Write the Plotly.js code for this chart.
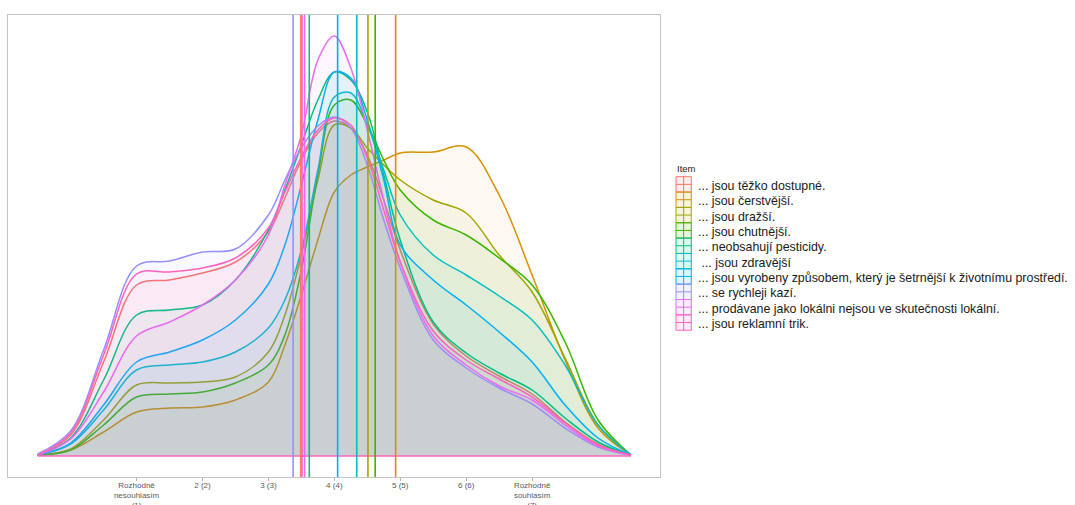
<!DOCTYPE html>
<html>
<head>
<meta charset="utf-8">
<script src="https://cdn.plot.ly/plotly-3.0.1.min.js"></script>
<style>html,body{margin:0;padding:0;background:#fff;}#chart{width:1075px;height:505px;}</style>
</head>
<body>
<div id="chart"></div>
<script>
// ---- data ----
const scaleTicks = [1, 2, 3, 4, 5, 6, 7];
const scaleLabels = ['Rozhodně<br>nesouhlasím<br>(1)', '2 (2)', '3 (3)', '4 (4)', '5 (5)', '6 (6)', 'Rozhodně<br>souhlasím<br>(7)'];

const legendTitle = 'Item';
const items = [
  '... jsou těžko dostupné.',
  '... jsou čerstvější.',
  '... jsou dražší.',
  '... jsou chutnější.',
  '... neobsahují pesticidy.',
  ' ... jsou zdravější',
  '... jsou vyrobeny způsobem, který je šetrnější k životnímu prostředí.',
  '... se rychleji kazí.',
  '... prodávane jako lokálni nejsou ve skutečnosti lokální.',
  '... jsou reklamní trik.'
];

// x positions at which the density estimates were read
const densityX = [-0.5, 0, 0.5, 1, 1.5, 2, 2.5, 3, 3.25, 3.5, 3.75, 4, 4.25, 4.5, 4.75, 5, 5.5, 6, 6.5, 7, 7.5, 8, 8.5];

const dTezkoDostupne = [0.001,0.021,0.094,0.171,0.176,0.183,0.194,0.224,0.258,0.296,0.323,0.335,0.328,0.301,0.256,0.206,0.132,0.100,0.080,0.062,0.034,0.012,0.001];
const dCerstvejsi    = [0.001,0.006,0.024,0.044,0.048,0.049,0.056,0.074,0.111,0.161,0.216,0.264,0.281,0.289,0.296,0.303,0.304,0.309,0.261,0.181,0.096,0.028,0.001];
const dDrazsi        = [0.001,0.007,0.036,0.071,0.073,0.074,0.079,0.104,0.141,0.201,0.276,0.331,0.328,0.308,0.291,0.276,0.256,0.243,0.201,0.164,0.098,0.031,0.001];
const dChutnejsi     = [0.001,0.006,0.031,0.059,0.062,0.064,0.073,0.091,0.121,0.186,0.281,0.351,0.356,0.331,0.296,0.266,0.236,0.221,0.198,0.171,0.114,0.036,0.001];
const dPesticidy     = [0.001,0.018,0.076,0.141,0.146,0.151,0.176,0.226,0.266,0.311,0.356,0.384,0.376,0.344,0.281,0.216,0.134,0.103,0.083,0.066,0.038,0.014,0.001];
const dZdravejsi     = [0.001,0.012,0.046,0.086,0.091,0.094,0.104,0.128,0.156,0.206,0.286,0.359,0.363,0.331,0.286,0.241,0.201,0.181,0.160,0.136,0.091,0.031,0.001];
const dSetrnejsi     = [0.001,0.013,0.051,0.094,0.104,0.116,0.136,0.172,0.211,0.271,0.336,0.384,0.378,0.336,0.276,0.211,0.176,0.151,0.124,0.094,0.051,0.018,0.001];
const dKazi          = [0.002,0.025,0.106,0.190,0.195,0.204,0.207,0.241,0.276,0.308,0.330,0.339,0.328,0.291,0.236,0.188,0.116,0.088,0.068,0.052,0.028,0.009,0.001];
const dLokalni       = [0.001,0.017,0.064,0.120,0.134,0.151,0.176,0.221,0.271,0.321,0.396,0.420,0.388,0.326,0.256,0.194,0.120,0.091,0.070,0.056,0.031,0.010,0.001];
const dReklamni      = [0.001,0.023,0.101,0.182,0.184,0.188,0.198,0.228,0.264,0.299,0.326,0.338,0.331,0.298,0.246,0.194,0.125,0.096,0.077,0.059,0.033,0.011,0.001];

const itemDensities = [dTezkoDostupne, dCerstvejsi, dDrazsi, dChutnejsi, dPesticidy, dZdravejsi, dSetrnejsi, dKazi, dLokalni, dReklamni];

// item means (vertical lines)
const itemMeans = [3.49, 4.93, 4.51, 4.62, 3.62, 4.34, 4.05, 3.375, 3.55, 3.51];

// ---- style ----
const colors = ['#F8766D', '#D89000', '#A3A500', '#39B600', '#00BF7D', '#00BFC4', '#00B0F6', '#9590FF', '#E76BF3', '#FF62BC'];
function hexA(hex, a) {
  const r = parseInt(hex.slice(1,3),16), g = parseInt(hex.slice(3,5),16), b = parseInt(hex.slice(5,7),16);
  return 'rgba(' + r + ',' + g + ',' + b + ',' + a + ')';
}

const W = 1075, H = 505;
const M = {l: 8, r: 415, t: 15, b: 28};
const plotW = W - M.l - M.r, plotH = H - M.t - M.b;
const px2x = p => (p - M.l) / plotW;      // pixel -> paper x
const py2y = p => (H - M.b - p) / plotH;  // pixel -> paper y

const traces = items.map((name, i) => ({
  type: 'scatter',
  mode: 'lines',
  name: name,
  x: densityX,
  y: itemDensities[i],
  line: {color: colors[i], width: 1.5, shape: 'spline', smoothing: 1},
  fill: 'tozeroy',
  fillcolor: hexA(colors[i], 0.05),
  showlegend: false,
  hoverinfo: 'name'
}));

// baseline of the density polygons (last drawn item on top)
traces.push({
  type: 'scatter', mode: 'lines', showlegend: false, hoverinfo: 'skip',
  x: [densityX[0], densityX[densityX.length - 1]], y: [0, 0],
  line: {color: colors[colors.length - 1], width: 1.5}
});

const shapes = itemMeans.map((m, i) => ({
  type: 'line', xref: 'x', yref: 'paper', x0: m, x1: m, y0: 0, y1: 1,
  line: {color: colors[i], width: 1.6}, layer: 'above'
}));

// ---- legend drawn as keys + text ----
const keyX0 = 676, keyW = 15.3, keyTop = 176.7, rowH = 15.35;
const annotations = [{
  xref: 'paper', yref: 'paper', x: px2x(keyX0 - 1), y: py2y(168.5),
  xanchor: 'left', yanchor: 'middle', showarrow: false,
  text: legendTitle, font: {size: 9.5, color: '#1a1a1a'}
}];
items.forEach((name, i) => {
  const t = keyTop + i * rowH, b = t + rowH;
  const cx = keyX0 + keyW / 2, cy = (t + b) / 2;
  shapes.push({type: 'rect', xref: 'paper', yref: 'paper',
    x0: px2x(keyX0), x1: px2x(keyX0 + keyW), y0: py2y(b), y1: py2y(t),
    line: {color: colors[i], width: 1}, fillcolor: hexA(colors[i], 0.12), layer: 'above'});
  shapes.push({type: 'line', xref: 'paper', yref: 'paper',
    x0: px2x(cx), x1: px2x(cx), y0: py2y(b), y1: py2y(t),
    line: {color: colors[i], width: 1}, layer: 'above'});
  shapes.push({type: 'line', xref: 'paper', yref: 'paper',
    x0: px2x(keyX0), x1: px2x(keyX0 + keyW), y0: py2y(cy), y1: py2y(cy),
    line: {color: colors[i], width: 1}, layer: 'above'});
  annotations.push({
    xref: 'paper', yref: 'paper', x: px2x(696), y: py2y(cy + 1.5),
    xanchor: 'left', yanchor: 'middle', showarrow: false,
    text: name, font: {size: 12.4, color: '#1a1a1a'}
  });
});

const layout = {
  width: W, height: H,
  margin: {l: M.l, r: M.r, t: M.t, b: M.b, pad: 0, autoexpand: false},
  paper_bgcolor: '#fff', plot_bgcolor: '#fff',
  font: {family: 'Liberation Sans, Arial, sans-serif', color: '#1a1a1a'},
  showlegend: false,
  xaxis: {
    range: [-0.95, 8.94],
    tickmode: 'array', tickvals: scaleTicks, ticktext: scaleLabels,
    ticks: 'outside', ticklen: 3, tickcolor: '#b5b5b5', tickwidth: 1,
    ticklabelstandoff: -3,
    tickfont: {size: 8, color: '#5a5a5a'},
    showgrid: false, zeroline: false,
    showline: true, mirror: true, linecolor: '#c4c4c4', linewidth: 1
  },
  yaxis: {
    range: [-0.021, 0.441],
    showticklabels: false, ticks: '',
    showgrid: false, zeroline: false,
    showline: true, mirror: true, linecolor: '#c4c4c4', linewidth: 1
  },
  shapes: shapes,
  annotations: annotations
};

Plotly.newPlot('chart', traces, layout, {displayModeBar: false, staticPlot: true});
</script>
</body>
</html>
